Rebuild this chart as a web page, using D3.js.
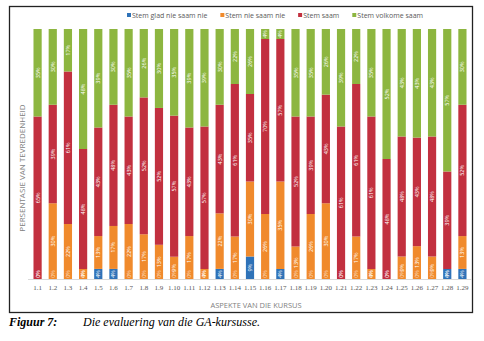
<!DOCTYPE html>
<html>
<head>
<meta charset="utf-8">
<script src="https://cdn.jsdelivr.net/npm/d3@7"></script>
<style>
  body { margin: 0; background: #fff; }
  svg { display: block; }
</style>
</head>
<body>
<script>
// aspects of the course, 1.1 .. 1.29
var categories = ["1.1","1.2","1.3","1.4","1.5","1.6","1.7","1.8","1.9","1.10",
  "1.11","1.12","1.13","1.14","1.15","1.16","1.17","1.18","1.19","1.20",
  "1.21","1.22","1.23","1.24","1.25","1.26","1.27","1.28","1.29"];

var seriesNames = ["Stem glad nie saam nie", "Stem nie saam nie", "Stem saam", "Stem volkome saam"];

var stemGladNieSaamNie = [0,0,0,0,4,4,0,0,0,0,0,0,4,0,9,0,4,0,0,0,0,0,0,0,0,0,0,4,4];
var stemNieSaamNie     = [0,30,22,4,13,17,22,17,13,9,17,4,22,17,30,26,35,13,26,30,0,17,4,0,9,13,9,0,13];
var stemSaam           = [65,39,61,48,43,48,43,52,52,57,43,57,43,61,35,70,57,52,39,43,61,61,61,48,48,43,48,39,52];
var stemVolkomeSaam    = [35,30,17,48,39,30,35,26,30,35,39,39,30,22,26,4,4,35,35,26,39,22,35,52,43,43,43,57,30];

var colors = ["#2e72b8", "#f08a2c", "#c2303f", "#8db640"];

var width = 484, height = 341;

var svg = d3.select("body").append("svg")
  .attr("width", width)
  .attr("height", height);

// frame round the chart
svg.append("rect")
  .attr("x", 9.5).attr("y", 6.5)
  .attr("width", 463).attr("height", 306)
  .attr("fill", "#fff")
  .attr("stroke", "#222")
  .attr("stroke-width", 1.3);

var margin = {top: 29, left: 30, right: 14, bottom: 62};

var table = categories.map(function(c, i) {
  var row = {cat: c};
  row[seriesNames[0]] = stemGladNieSaamNie[i];
  row[seriesNames[1]] = stemNieSaamNie[i];
  row[seriesNames[2]] = stemSaam[i];
  row[seriesNames[3]] = stemVolkomeSaam[i];
  return row;
});

var stack = d3.stack().keys(seriesNames).offset(d3.stackOffsetExpand);
var layers = stack(table);

var x = d3.scaleBand()
  .domain(categories)
  .range([margin.left, width - margin.right])
  .paddingInner(0.46)
  .paddingOuter(0.23);

var y = d3.scaleLinear()
  .domain([0, 1])
  .range([height - margin.bottom, margin.top]);

//bars
var groups = svg.selectAll("g.layer")
  .data(layers)
  .enter().append("g")
  .attr("class", "layer")
  .attr("fill", function(d, i) { return colors[i]; });

groups.selectAll("rect")
  .data(function(d) { return d; })
  .enter().append("rect")
  .attr("x", function(d) { return x(d.data.cat); })
  .attr("y", function(d) { return y(d[1]); })
  .attr("width", x.bandwidth())
  .attr("height", function(d) { return y(d[0]) - y(d[1]); });

//value labels, rotated, inside the bars
layers.forEach(function(layer) {
  svg.append("g").selectAll("text")
    .data(layer)
    .enter().append("text")
    .attr("transform", function(d) {
      var cx = x(d.data.cat) + x.bandwidth() / 2;
      var cy = (y(d[0]) + y(d[1])) / 2;
      if (d[1] - d[0] === 0) cy = y(0) - 5;
      return "translate(" + cx + "," + cy + ") rotate(-90)";
    })
    .attr("text-anchor", "middle")
    .attr("dominant-baseline", "central")
    .attr("font-family", "'Open Sans', sans-serif")
    .attr("font-size", "5.5px")
    .attr("fill", "#fff")
    .attr("fill-opacity", function(d) { return d[1] - d[0] === 0 ? 0.75 : 1; })
    .text(function(d) { return d.data[layer.key] + "%"; });
});

//x axis
var xAxis = d3.axisBottom(x).tickSize(0).tickPadding(6);
var gx = svg.append("g")
  .attr("transform", "translate(0," + y(0) + ")")
  .call(xAxis);
gx.select(".domain")
  .attr("stroke", "#d9d9d9")
  .attr("d", "M" + (margin.left - 2) + ",0.5H" + (width - margin.right + 2));
gx.selectAll("text")
  .attr("font-family", "'Liberation Serif', serif")
  .attr("font-size", "7px")
  .attr("fill", "#595959");

svg.append("text")
  .attr("x", 256)
  .attr("y", 308)
  .attr("text-anchor", "middle")
  .attr("font-family", "'Open Sans', sans-serif")
  .attr("font-size", "7.5px")
  .attr("fill", "#7f7f7f")
  .text("ASPEKTE VAN DIE KURSUS");

svg.append("text")
  .attr("transform", "translate(25,168) rotate(-90)")
  .attr("text-anchor", "middle")
  .attr("font-family", "'Open Sans', sans-serif")
  .attr("font-size", "8px")
  .attr("fill", "#7f7f7f")
  .text("PERSENTASIE VAN TEVREDENHEID");

//legend
var legend = svg.append("g");
var lx = 127;
seriesNames.forEach(function(name, i) {
  legend.append("rect")
    .attr("x", lx).attr("y", 13)
    .attr("width", 4).attr("height", 4)
    .attr("fill", colors[i]);
  var t = legend.append("text")
    .attr("x", lx + 5)
    .attr("y", 17.5)
    .attr("font-family", "'Open Sans', sans-serif")
    .attr("font-size", "7px")
    .attr("fill", "#595959")
    .text(name);
  lx += 5 + t.node().getComputedTextLength() + 13;
});

//caption
svg.append("text")
  .attr("x", 9)
  .attr("y", 326)
  .attr("font-family", "'Liberation Serif', serif")
  .attr("font-style", "italic")
  .attr("font-weight", "bold")
  .attr("font-size", "12px")
  .text("Figuur 7:");

svg.append("text")
  .attr("x", 83)
  .attr("y", 326)
  .attr("font-family", "'Liberation Serif', serif")
  .attr("font-style", "italic")
  .attr("font-size", "12px")
  .text("Die evaluering van die GA-kursusse.");
</script>
</body>
</html>
